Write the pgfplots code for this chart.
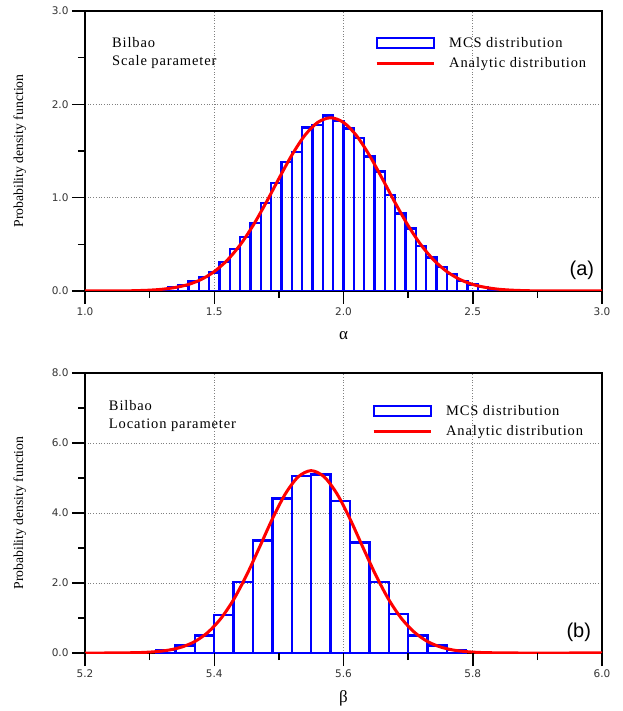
\documentclass[border=0pt]{standalone}
\usepackage{fontspec}
\setmainfont{Liberation Serif}
\newfontfamily\tickfamily{DejaVu Sans}
\newfontfamily\lblfamily[LetterSpace=6]{Liberation Serif}
\newfontfamily\panelfamily{Liberation Sans}
\usepackage{pgfplots}
\pgfplotsset{compat=1.18}
\usetikzlibrary{calc}

\pgfplotsset{
  pdfpanel/.style={
    scale only axis, width=517pt, height=280pt,
    anchor=south west,
    axis line style={line width=1.5pt, black, solid},
    tick align=outside, tick pos=left,
    tick style={draw=black, solid, line width=1.5pt},
    major tick length=13pt, minor tick length=7pt,
    minor x tick num=1, minor y tick num=1,
    grid=major,
    major grid style={gray, line width=0.7pt, dotted},
    /pgf/number format/fixed,
    /pgf/number format/fixed zerofill,
    /pgf/number format/precision=1,
    /pgf/number format/assume math mode=true,
    tick label style={font=\tickfamily\fontsize{10.5}{12}\selectfont, text=black!80},
    ylabel={Probability density function},
    every axis y label/.style={at={(axis description cs:-0.126,0.5)}, rotate=90,
      anchor=center, font=\fontsize{13.7}{16}\selectfont},
    every axis x label/.style={at={(axis description cs:0.5,-0.161)}, anchor=center,
      font=\fontsize{17}{20}\selectfont},
    legend cell align=left,
    legend style={draw=none, fill=none, inner sep=0pt,
      font=\lblfamily\fontsize{14.5}{17}\selectfont, row sep=5pt,
      /tikz/every odd column/.append style={column sep=12pt}},
  },
  pdfline/.style={red, line width=3pt, smooth, mark=none,
    legend image code/.code={\draw[red, line width=3pt] (0pt,0pt) -- (57pt,0pt);}},
}
\tikzset{
  infotext/.style={anchor=north west, align=left, inner sep=0pt,
    font=\lblfamily\fontsize{14.5}{18}\selectfont},
  paneltag/.style={anchor=center, font=\panelfamily\fontsize{20}{24}\selectfont},
  mcsbox/.style={draw=blue, fill=none, line width=2.4pt},
  tickline/.style={draw=black, line width=1.5pt},
}
% tick marks on the lower and left sides of a named axis
\newcommand{\boxticks}[5]{% name, x major, x minor, y major, y minor (fractions)
  \foreach \f in {#2} \draw[tickline] ($(#1.south west)!\f!(#1.south east)$) -- ++(0pt,-13pt);
  \foreach \f in {#3} \draw[tickline] ($(#1.south west)!\f!(#1.south east)$) -- ++(0pt,-7pt);
  \foreach \f in {#4} \draw[tickline] ($(#1.south west)!\f!(#1.north west)$) -- ++(-13pt,0pt);
  \foreach \f in {#5} \draw[tickline] ($(#1.south west)!\f!(#1.north west)$) -- ++(-7pt,0pt);
}

\begin{document}
\begin{tikzpicture}
\useasboundingbox (0,0) rectangle (622pt,711pt);

% (a) scale parameter, bins 0.04 wide (centres)
\begin{axis}[pdfpanel, name=pa, at={(85pt,420pt)},
  xmin=1, xmax=3, ymin=0, ymax=3,
  xtick={1,1.5,2,2.5,3}, ytick={0,1,2,3},
  xlabel={α},
  legend style={at={(axis description cs:0.561,0.915)}, anchor=north west}]
\addplot[ybar, bar width=0.04, bar shift=0pt, mcsbox, mark=none,
  legend image code/.code={\draw[blue, line width=2pt] (0pt,-5pt) rectangle (57pt,5pt);}]
  coordinates {
  (1.26,0.008) (1.30,0.02) (1.34,0.04) (1.38,0.06) (1.42,0.10) (1.46,0.15)
  (1.50,0.20) (1.54,0.31) (1.58,0.45) (1.62,0.58) (1.66,0.73) (1.70,0.94)
  (1.74,1.16) (1.78,1.38) (1.82,1.49) (1.86,1.75) (1.90,1.78) (1.94,1.88)
  (1.98,1.82) (2.02,1.74) (2.06,1.64) (2.10,1.44) (2.14,1.28) (2.18,1.03)
  (2.22,0.83) (2.26,0.67) (2.30,0.48) (2.34,0.36) (2.38,0.26) (2.42,0.18)
  (2.46,0.11) (2.50,0.07) (2.54,0.04) (2.58,0.02) (2.62,0.01)
};
\addlegendentry{MCS distribution}
\addplot[pdfline] coordinates {
  (1.00,0) (1.10,0) (1.15,0.001) (1.20,0.004) (1.25,0.009) (1.30,0.019)
  (1.35,0.038) (1.40,0.070) (1.45,0.124) (1.50,0.208) (1.55,0.329) (1.60,0.493)
  (1.65,0.701) (1.70,0.944) (1.75,1.204) (1.80,1.455) (1.85,1.666) (1.90,1.806)
  (1.95,1.856) (2.00,1.806) (2.05,1.666) (2.10,1.455) (2.15,1.204) (2.20,0.944)
  (2.25,0.701) (2.30,0.493) (2.35,0.329) (2.40,0.208) (2.45,0.124) (2.50,0.070)
  (2.55,0.038) (2.60,0.019) (2.65,0.009) (2.70,0.004) (2.75,0.001) (2.80,0)
  (2.90,0) (3.00,0)
};
\addlegendentry{Analytic distribution}
\node[infotext] at (axis description cs:0.052,0.907) {Bilbao\\Scale parameter};
\node[paneltag] at (axis description cs:0.961,0.075) {(a)};
\end{axis}
\boxticks{pa}{0,0.25,0.5,0.75,1}{0.125,0.375,0.625,0.875}{0,0.3333,0.6667,1}{0.1667,0.5,0.8333}

% (b) location parameter, bins 0.03 wide (centres)
\begin{axis}[pdfpanel, name=pb, at={(85pt,58pt)},
  xmin=5.2, xmax=6.0, ymin=0, ymax=8,
  xtick={5.2,5.4,5.6,5.8,6.0}, ytick={0,2,4,6,8},
  xlabel={β},
  legend style={at={(axis description cs:0.555,0.893)}, anchor=north west}]
\addplot[ybar, bar width=0.03, bar shift=0pt, mcsbox, mark=none,
  legend image code/.code={\draw[blue, line width=2pt] (0pt,-5pt) rectangle (57pt,5pt);}]
  coordinates {
  (5.325,0.08) (5.355,0.21) (5.385,0.50) (5.415,1.08) (5.445,2.03) (5.475,3.21)
  (5.505,4.41) (5.535,5.06) (5.565,5.10) (5.595,4.34) (5.625,3.16) (5.655,2.03)
  (5.685,1.11) (5.715,0.50) (5.745,0.22) (5.775,0.08)
};
\addlegendentry{MCS distribution}
\addplot[pdfline] coordinates {
  (5.20,0) (5.23,0) (5.25,0.002) (5.27,0.007) (5.29,0.016) (5.31,0.039)
  (5.33,0.084) (5.35,0.172) (5.37,0.329) (5.39,0.588) (5.41,0.980) (5.43,1.527)
  (5.45,2.223) (5.47,3.020) (5.49,3.834) (5.51,4.546) (5.53,5.035) (5.55,5.210)
  (5.57,5.035) (5.59,4.546) (5.61,3.834) (5.63,3.020) (5.65,2.223) (5.67,1.527)
  (5.69,0.980) (5.71,0.588) (5.73,0.329) (5.75,0.172) (5.77,0.084) (5.79,0.039)
  (5.81,0.016) (5.83,0.007) (5.85,0.002) (5.87,0) (5.95,0) (6.00,0)
};
\addlegendentry{Analytic distribution}
\node[infotext] at (axis description cs:0.046,0.904) {Bilbao\\Location parameter};
\node[paneltag] at (axis description cs:0.955,0.075) {(b)};
\end{axis}
\boxticks{pb}{0,0.25,0.5,0.75,1}{0.125,0.375,0.625,0.875}{0,0.25,0.5,0.75,1}{0.125,0.375,0.625,0.875}
\end{tikzpicture}
\end{document}
